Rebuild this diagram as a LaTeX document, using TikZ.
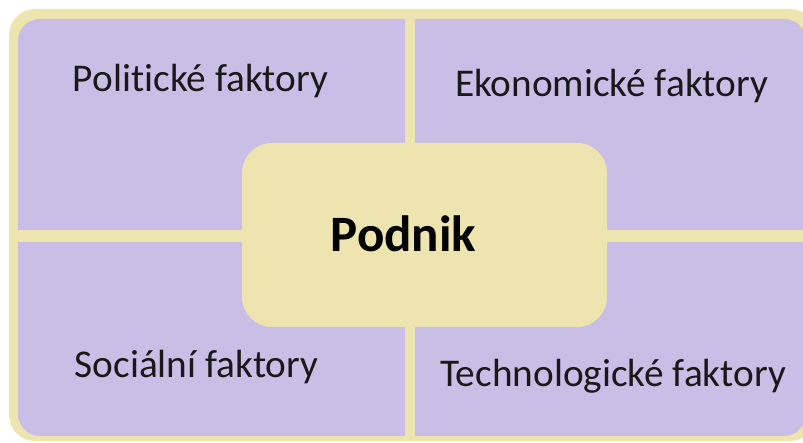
\documentclass[tikz,border=0pt]{standalone}
\usepackage{fontspec}
\setmainfont[Ligatures={NoCommon}]{Carlito}
\definecolor{beige}{RGB}{238,228,175}
\definecolor{lila}{RGB}{200,190,230}
\tikzset{
  label/.style={anchor=base,inner sep=0pt,font=\fontsize{39.3}{46}\selectfont,text=black!90},
  centerlabel/.style={anchor=base,inner sep=0pt,font=\fontsize{51}{60}\selectfont\bfseries,text=black},
  divider/.style={fill=beige,draw=none}
}
\begin{document}
\begin{tikzpicture}[x=1pt,y=1pt]
\useasboundingbox (0,0) rectangle (803,443);
\begin{scope}
\clip (0,0) rectangle (803,443);
\fill[beige,rounded corners=26pt] (9,2) rectangle (816,434);
\fill[lila,rounded corners=22pt] (18,7) rectangle (806,424);
\fill[divider] (405,7) rectangle (415,424);
\fill[divider] (18,201) rectangle (806,213);
\end{scope}
\node[draw=none,fill=beige,rounded corners=30pt,minimum width=365pt,minimum height=184pt,inner sep=0pt] (podnikbox) at (424.5,208) {};
\node[centerlabel] (podnik) at (403.5,191) {Podnik};
\node[label] (pol) at (200.5,351) {Politické faktory};
\node[label] (eko) at (611.5,346) {Ekonomické faktory};
\node[label] (soc) at (196.5,65) {Sociální faktory};
\node[label] (tech) at (613,56) {Technologické faktory};
\end{tikzpicture}
\end{document}
